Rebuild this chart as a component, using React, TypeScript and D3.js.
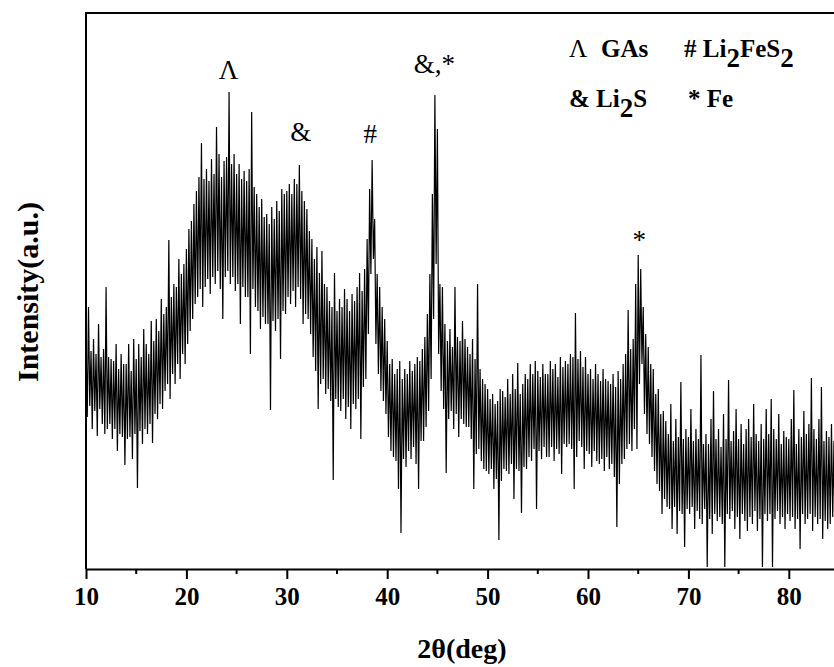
import { useRef, useEffect } from 'react';
import * as d3 from 'd3';

// 2θ sampled every 0.25 deg from 10 to 85; upper / lower = noise envelope of the counts
const START = 10;
const STEP = 0.25;

const upper = [
  225, 262, 218, 230, 215, 245, 212, 220,
  282, 212, 210, 208, 225, 200, 215, 205,
  205, 225, 198, 230, 210, 225, 212, 240,
  225, 215, 248, 228, 250, 238, 270, 255,
  262, 329, 272, 285, 282, 310, 295, 305,
  320, 340, 348, 365, 378, 392, 426, 390,
  400, 388, 410, 395, 442, 415, 392, 408,
  412, 477, 405, 415, 395, 405, 390, 398,
  388, 400, 457, 382, 375, 362, 370, 352,
  355, 345, 362, 350, 368, 358, 380, 375,
  378, 385, 375, 390, 385, 404, 378, 368,
  360, 338, 330, 310, 322, 296, 318, 285,
  282, 268, 262, 296, 258, 270, 262, 280,
  270, 258, 275, 268, 282, 296, 278, 300,
  330, 380, 409, 350, 295, 282, 262, 250,
  228, 205, 210, 195, 200, 208, 190, 200,
  195, 208, 198, 205, 212, 208, 220, 232,
  255, 295, 375, 474, 440, 285, 282, 245,
  228, 240, 222, 282, 232, 228, 248, 230,
  222, 215, 230, 210, 285, 200, 190, 185,
  180, 170, 175, 165, 168, 180, 178, 172,
  190, 175, 195, 180, 206, 175, 185, 195,
  190, 205, 195, 208, 198, 192, 205, 195,
  195, 208, 200, 205, 192, 212, 202, 208,
  205, 215, 212, 256, 210, 218, 202, 212,
  195, 200, 190, 205, 195, 188, 200, 190,
  188, 185, 195, 182, 198, 190, 205, 215,
  259, 220, 230, 285, 314, 300, 262, 235,
  222, 205, 200, 175, 180, 155, 158, 148,
  135, 165, 128, 150, 132, 187, 130, 140,
  132, 160, 128, 140, 130, 214, 125, 135,
  125, 150, 178, 130, 140, 122, 155, 130,
  189, 128, 138, 160, 130, 145, 125, 140,
  150, 132, 165, 135, 128, 145, 130, 160,
  135, 170, 140, 130, 155, 125, 138, 132,
  130, 150, 179, 125, 140, 132, 158, 135,
  145, 191, 140, 130, 150, 182, 128, 138,
  132, 145, 128, 140, 130,
];

const lower = [
  152, 163, 140, 158, 133, 160, 145, 135,
  140, 145, 130, 140, 118, 135, 132, 104,
  130, 132, 110, 135, 81, 138, 125, 140,
  135, 145, 126, 155, 150, 165, 160, 178,
  185, 170, 195, 185, 205, 190, 215, 205,
  225, 238, 250, 265, 272, 280, 262, 282,
  290, 275, 292, 285, 298, 280, 250, 292,
  298, 285, 292, 278, 285, 245, 282, 272,
  272, 215, 280, 262, 258, 240, 252, 245,
  245, 159, 248, 238, 250, 210, 258, 255,
  272, 265, 278, 262, 282, 270, 245, 255,
  250, 235, 212, 198, 160, 185, 190, 175,
  180, 168, 89, 170, 162, 158, 170, 150,
  162, 140, 165, 160, 170, 130, 182, 190,
  235, 295, 310, 225, 195, 178, 168, 155,
  132, 118, 112, 108, 80, 36, 110, 102,
  118, 110, 122, 105, 80, 128, 128, 142,
  158, 190, 250, 305, 215, 178, 160, 96,
  150, 158, 140, 155, 132, 150, 145, 142,
  142, 130, 80, 115, 120, 108, 100, 98,
  95, 100, 80, 90, 29, 88, 100, 98,
  95, 105, 70, 100, 98, 56, 102, 100,
  112, 108, 120, 60, 118, 110, 122, 112,
  112, 122, 108, 120, 115, 95, 125, 122,
  125, 120, 80, 112, 128, 122, 100, 118,
  115, 102, 118, 108, 105, 110, 98, 112,
  100, 105, 92, 42, 85, 105, 110, 120,
  125, 118, 140, 120, 185, 205, 155, 135,
  125, 112, 98, 85, 78, 55, 70, 62,
  60, 40, 62, 35, 58, 55, 22, 60,
  55, 62, 40, 58, 50, 45, 60, 2,
  50, 35, 55, 48, 52, 45, 2, 55,
  50, 58, 40, 52, 30, 55, 48, 38,
  52, 45, 58, 38, 50, 2, 55, 48,
  55, 2, 50, 58, 45, 52, 40, 55,
  48, 52, 40, 50, 20, 55, 45, 50,
  55, 38, 52, 45, 50, 30, 48, 40,
  45, 52, 18, 48, 50,
];

const xTicks = [10, 20, 30, 40, 50, 60, 70, 80];
const xMinorTicks = [15, 25, 35, 45, 55, 65, 75, 85];

const peakLabels = [
  { text: 'Λ', at: 24.2, level: 490 },
  { text: '&', at: 31.4, level: 428 },
  { text: '#', at: 38.3, level: 426 },
  { text: '&,*', at: 44.7, level: 496 },
  { text: '*', at: 65.1, level: 320 },
];

const W = 834;
const H = 667;
const M = { left: 86, top: 13, bottom: 569, right: 839 };
const serif = '"Liberation Serif", "Times New Roman", serif';

export default function App() {
  const svgRef = useRef(null);

  useEffect(() => {
    const svg = d3.select(svgRef.current);
    svg.selectAll('*').remove();

    const x = d3.scaleLinear().domain([10, 85]).range([M.left, M.right]);
    const y = d3.scaleLinear().domain([0, 556]).range([M.bottom, M.top]);

    svg.append('defs').append('clipPath').attr('id', 'plotclip')
      .append('rect')
      .attr('x', M.left).attr('y', M.top)
      .attr('width', M.right - M.left).attr('height', M.bottom - M.top);

    // zigzag between the upper and lower envelope readings
    const pts: [number, number][] = [];
    upper.forEach((u, i) => {
      const t = START + i * STEP;
      pts.push([x(t), y(u)]);
      if (lower[i] !== undefined) pts.push([x(t + STEP / 2), y(lower[i])]);
    });

    svg.append('path')
      .attr('clip-path', 'url(#plotclip)')
      .attr('d', d3.line()(pts))
      .attr('fill', 'none')
      .attr('stroke', '#000')
      .attr('stroke-width', 1.2)
      .attr('stroke-linejoin', 'bevel');

    // frame (left + top), bottom axis
    svg.append('path')
      .attr('d', `M${M.left},${M.bottom}V${M.top}H${M.right}`)
      .attr('fill', 'none').attr('stroke', '#000').attr('stroke-width', 2);

    const axis = d3.axisBottom(x).tickValues(xTicks).tickSize(10).tickSizeOuter(0).tickPadding(8);
    const ax = svg.append('g').attr('transform', `translate(0,${M.bottom})`).call(axis);
    ax.select('.domain').attr('stroke-width', 2);
    ax.selectAll('.tick line').attr('stroke-width', 2);
    ax.selectAll('.tick text')
      .attr('font-family', serif)
      .attr('font-weight', 'bold').attr('font-size', 25).attr('fill', '#000');

    svg.append('g').selectAll('line').data(xMinorTicks).join('line')
      .attr('x1', d => x(d)).attr('x2', d => x(d))
      .attr('y1', M.bottom).attr('y2', M.bottom + 5)
      .attr('stroke', '#000').attr('stroke-width', 2);

    svg.append('text')
      .attr('x', 462).attr('y', 658)
      .attr('text-anchor', 'middle')
      .attr('font-family', serif).attr('font-weight', 'bold').attr('font-size', 28)
      .text('2θ(deg)');

    svg.append('text')
      .attr('transform', `translate(38,${(M.top + M.bottom) / 2 + 1}) rotate(-90)`)
      .attr('text-anchor', 'middle')
      .attr('font-family', serif).attr('font-weight', 'bold').attr('font-size', 30)
      .text('Intensity(a.u.)');

    svg.append('g').selectAll('text').data(peakLabels).join('text')
      .attr('x', d => x(d.at)).attr('y', d => y(d.level))
      .attr('text-anchor', 'middle')
      .attr('font-family', serif).attr('font-size', 27)
      .text(d => d.text);

    // legend
    const lg = svg.append('g')
      .attr('font-family', serif).attr('font-weight', 'bold').attr('font-size', 25);
    lg.append('text').attr('x', 569).attr('y', 57).attr('font-weight', 'normal').text('Λ');
    lg.append('text').attr('x', 601).attr('y', 57).text('GAs');
    const t2 = lg.append('text').attr('x', 684).attr('y', 57);
    t2.append('tspan').text('# Li');
    t2.append('tspan').attr('dy', 10).attr('font-size', 27).text('2');
    t2.append('tspan').attr('dy', -10).text('FeS');
    t2.append('tspan').attr('dy', 10).attr('font-size', 27).text('2');
    const t3 = lg.append('text').attr('x', 569).attr('y', 107);
    t3.append('tspan').text('& Li');
    t3.append('tspan').attr('dy', 10).attr('font-size', 27).text('2');
    t3.append('tspan').attr('dy', -10).text('S');
    lg.append('text').attr('x', 688).attr('y', 107).text('* Fe');
  }, []);

  return (
    <svg
      ref={svgRef}
      width={W}
      height={H}
      style={{ position: 'absolute', left: 0, top: 0, background: '#fff' }}
    />
  );
}
